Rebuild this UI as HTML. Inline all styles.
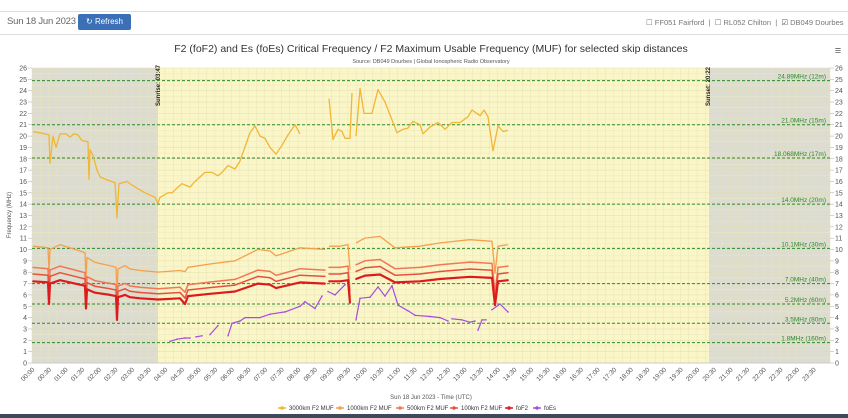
<!DOCTYPE html>
<html><head><meta charset="utf-8"><style>
body{margin:0;width:848px;height:418px;background:#fff;font-family:"Liberation Sans",sans-serif;overflow:hidden;position:relative}
.t{position:absolute;white-space:nowrap}
</style></head><body>
<div style="position:absolute;left:0;top:11px;width:848px;height:1px;background:#ddd"></div>
<div style="position:absolute;left:0;top:34px;width:848px;height:1px;background:#ddd"></div>
<div class="t" style="left:7px;top:16px;font-size:9.5px;color:#666;letter-spacing:-0.2px">Sun 18 Jun 2023</div>
<div class="t" style="left:78px;top:14px;width:53px;height:16px;background:#3b6fb6;color:#fff;font-size:8px;line-height:16px;text-align:center;border-radius:2px">&#x21bb; Refresh</div>
<div class="t" style="left:646px;top:18px;font-size:7.5px;color:#777">&#9744; FF051 Fairford &nbsp;| &nbsp;&#9744; RL052 Chilton &nbsp;| &nbsp;<span style="color:#555">&#9745;</span> DB049 Dourbes</div>
<svg id="s" width="848" height="418" style="position:absolute;left:0;top:0" font-family="Liberation Sans, sans-serif"></svg>
<script>
var s=document.getElementById('s'),h='';
function Y(v){return 363-v*11.346}
var x0=32,x1=830,ppH=(x1-x0)/24;
h+='<rect x="32" y="68" width="798" height="295" fill="#fbf6c8"/>';
h+='<rect x="32" y="68" width="'+(158-32)+'" height="295" fill="#dcdcd0"/>';
h+='<rect x="709" y="68" width="121" height="295" fill="#dcdcd0"/>';
for(var i=0;i<=96;i++){var x=x0+i*ppH/4;h+='<line x1="'+x+'" y1="68" x2="'+x+'" y2="363" stroke="#e9e4b8" stroke-width="0.5"/>';}
for(var v=0;v<=26;v+=0.5){h+='<line x1="32" y1="'+Y(v)+'" x2="830" y2="'+Y(v)+'" stroke="'+(v%1?'#ece7c0':'#e2ddb0')+'" stroke-width="0.5"/>';}
h+='<line x1="32" y1="363" x2="830" y2="363" stroke="#ccc"/>';
for(var v=0;v<=26;v++){h+='<text x="27" y="'+(Y(v)+2.5)+'" font-size="7" fill="#555" text-anchor="end">'+v+'</text><text x="835" y="'+(Y(v)+2.5)+'" font-size="7" fill="#555">'+v+'</text>';
h+='<line x1="28" x2="32" y1="'+Y(v)+'" y2="'+Y(v)+'" stroke="#aaa" stroke-width="0.5"/><line x1="830" x2="834" y1="'+Y(v)+'" y2="'+Y(v)+'" stroke="#aaa" stroke-width="0.5"/>';}
[[24.89,'24.89MHz (12m)'],[21,'21.0MHz (15m)'],[18.068,'18.068MHz (17m)'],[14,'14.0MHz (20m)'],[10.1,'10.1MHz (30m)'],[7,'7.0MHz (40m)'],[5.2,'5.2MHz (60m)'],[3.5,'3.5MHz (80m)'],[1.8,'1.8MHz (160m)']].forEach(function(g){
h+='<line x1="32" x2="830" y1="'+Y(g[0])+'" y2="'+Y(g[0])+'" stroke="#2a8a2a" stroke-dasharray="3,2" stroke-width="1"/>';
h+='<text x="826" y="'+(Y(g[0])-2)+'" font-size="6.5" fill="#2a8a2a" text-anchor="end">'+g[1]+'</text>';});
h+='<text transform="translate(160,106) rotate(-90)" font-size="6" font-weight="bold" fill="#222">Sunrise: 03:47</text>';
h+='<text transform="translate(710,106) rotate(-90)" font-size="6" font-weight="bold" fill="#222">Sunset: 20:22</text>';
function line(pts,col,w,dots){var segs=[[]];pts.forEach(function(p){if(p==null)segs.push([]);else segs[segs.length-1].push(p)});
segs.forEach(function(sg){if(sg.length>1)h+='<polyline fill="none" stroke="'+col+'" stroke-width="'+w+'" stroke-linejoin="round" points="'+sg.map(function(p){return p[0]+','+Y(p[1]).toFixed(1)}).join(' ')+'"/>';
if(dots)sg.forEach(function(p){h+='<circle cx="'+p[0]+'" cy="'+Y(p[1])+'" r="'+dots+'" fill="'+col+'"/>'});});}
var m3=[[33,20.4],[45,20.2],[49,20.1],[50,17.6],[53,20],[56,19],[60,20.2],[66,20.2],[70,19.9],[74,20.2],[78,20.1],[82,19.6],[88,19.5],[89,16.2],[90,18.8],[93,18.3],[97,17],[100,16.4],[108,16.1],[115,15.9],[117,12.8],[119,15.8],[127,16],[135,15.5],[145,15],[155,14.6],[158,14.1],[160,14.6],[168,15],[172,15],[178,15.5],[182,15.8],[190,15.5],[195,16],[205,16.8],[212,16.8],[218,16.5],[222,16.8],[228,17.4],[235,17.1],[240,17.8],[250,20.3],[255,20.9],[260,20],[265,19.8],[270,19],[276,18.4],[282,19.2],[288,20.1],[295,21],[300,20.2],null,[329,23.3],[333,19.7],[338,20.6],[342,20.4],[345,19.8],[350,19.8],[352,23.8],null,[356,20],[360,24.2],[364,22],[372,22],[378,24.1],[385,23],[397,20.3],[403,20.6],[408,20.7],[413,21.3],[420,21],[423,20.2],[430,20.8],[438,21.2],[445,20.6],[452,21.2],[460,21.2],[468,21.7],[472,22.3],[480,21.8],[484,22.3],[488,21.7],[493,18.7],[498,20.9],[503,20.4],[508,20.5]];
var f2=[[33,7.2],[48,7.1],[49,5.2],[50,7],[60,7.3],[80,6.9],[85,6.8],[86,4.8],[87,6.5],[95,6.2],[110,6.0],[116,5.9],[117,3.8],[118,5.8],[125,6],[130,5.8],[140,5.7],[158,5.6],[180,5.7],[185,5.2],[188,5.9],[210,6.1],[235,6.3],[258,7],[270,6.9],[276,6.6],[300,7.1],[325,7.0],null,[329,7.2],[340,7.2],[348,7.3],[350,5.3],null,[356,7.4],[365,7.7],[380,7.8],[395,7.1],[420,7.2],[440,7.4],[470,7.6],[492,7.5],[495,5.1],[498,7.2],[508,7.3]];
function sc(k,dk){return f2.map(function(p){if(!p)return null;var dip=p[1]<5.4;return [p[0],dip?p[1]*dk:p[1]*k]})}
line(m3,'#f2b535',1.3,0);
line(sc(1.43,1.55),'#f5a04a',1.3,0);
line(sc(1.17,1.2),'#f07856',1.5,0.7);
line(sc(1.09,1.1),'#e8503e',1.5,0.7);
line(f2,'#dc1c1c',2.2,0.9);
var es=[[170,1.9],[177,2.1],[185,2.2],[190,2.2],null,[196,2.3],[202,2.4],null,[210,2.5],[218,3.3],null,[228,2.4],[232,3.5],[240,3.7],[245,4],[260,4],[270,4.3],[285,4.5],[300,5],[305,5.4],[315,4.8],[322,5.9],null,[328,6.3],[335,6],[345,6.9],null,[356,3.8],[360,5.7],[370,5.8],[378,6.7],[385,5.9],[392,6.8],[398,5.1],[408,4.6],[415,4.2],[430,4.1],[440,4],[448,3.7],null,[452,3.9],[462,3.8],[470,3.6],[475,3.7],null,[478,2.9],[482,3.8],[486,3.8],null,[492,4.7],[500,5.2],[508,4.5]];
line(es,'#a64de0',1.2,0.8);
for(var i=0;i<48;i++){var hh=Math.floor(i/2),mm=i%2?'30':'00';var x=x0+i*ppH/2;
h+='<text transform="translate('+(x+3)+',370) rotate(-45)" font-size="6.5" fill="#555" text-anchor="end">'+(hh<10?'0':'')+hh+':'+mm+'</text>';}
h+='<text x="431" y="399" font-size="6" fill="#555" text-anchor="middle">Sun 18 Jun 2023 - Time (UTC)</text>';
h+='<text transform="translate(11,215) rotate(-90)" font-size="6" fill="#555" text-anchor="middle">Frequency (MHz)</text>';
h+='<text x="431" y="52" font-size="10.5" fill="#333" text-anchor="middle">F2 (foF2) and Es (foEs) Critical Frequency / F2 Maximum Usable Frequency (MUF) for selected skip distances</text>';
h+='<text x="431" y="63" font-size="5.5" fill="#555" text-anchor="middle">Source: DB049 Dourbes | Global Ionospheric Radio Observatory</text>';
h+='<text x="838" y="54" font-size="11" fill="#666" text-anchor="middle">&#8801;</text>';
var lg=[['3000km F2 MUF','#f2b535',278],['1000km F2 MUF','#f5a04a',336],['500km F2 MUF','#f07856',396],['100km F2 MUF','#e8503e',450],['foF2','#dc1c1c',505],['foEs','#a64de0',533]];
lg.forEach(function(l){h+='<line x1="'+l[2]+'" x2="'+(l[2]+8)+'" y1="408" y2="408" stroke="'+l[1]+'" stroke-width="1.5"/><circle cx="'+(l[2]+4)+'" cy="408" r="1.8" fill="'+l[1]+'"/><text x="'+(l[2]+11)+'" y="410" font-size="6" fill="#333">'+l[0]+'</text>'});
h+='<rect x="0" y="414" width="848" height="4" fill="#3c4a5c"/>';
s.innerHTML=h;
</script>
</body></html>
